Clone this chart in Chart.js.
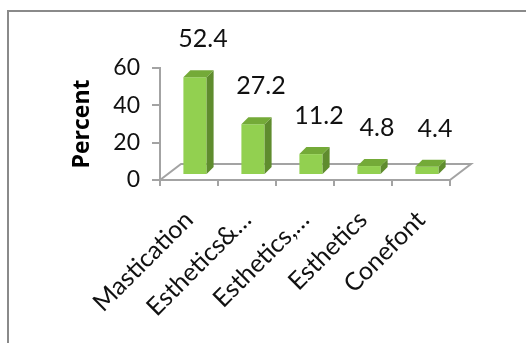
<!DOCTYPE html>
<html>
<head>
<meta charset="utf-8">
<title>Percent by reason</title>
<script src="https://cdn.jsdelivr.net/npm/chart.js@4/dist/chart.umd.min.js"></script>
<style>
  html, body { margin: 0; padding: 0; background: #fff; }
  canvas { display: block; }
</style>
</head>
<body>
<canvas id="chart" width="526" height="343"></canvas>
<script>
// Reasons and their share in percent
const categories = ['Mastication', 'Esthetics&\u2026', 'Esthetics,\u2026', 'Esthetics', 'Conefont'];
const percents = [52.4, 27.2, 11.2, 4.8, 4.4];
const yTickValues = [0, 20, 40, 60];

const FONT = 'Lato, "Open Sans", sans-serif';
const TITLE_FONT = '"Open Sans", Lato, sans-serif';
const AXIS_GREY = '#a3a3a3';

// Oblique projection used for the pseudo-3D look
const FLOOR_DEPTH = { dx: 21, dy: -16 };   // full depth of the floor
const BAR_SHIFT = { dx: 6, dy: -5 };       // bars sit a little behind the front edge
const BAR_DEPTH = { dx: 7, dy: -7 };       // thickness of each prism

const FACE_FRONT = '#92d050';
const FACE_SIDE = '#5f8c2e';
const FACE_TOP = '#74aa38';

const framePlugin = {
  id: 'frame',
  beforeDraw(chart) {
    const ctx = chart.ctx;
    ctx.save();
    ctx.fillStyle = '#fff';
    ctx.fillRect(0, 0, chart.width, chart.height);
    ctx.strokeStyle = '#8a8a8a';
    ctx.lineWidth = 2;
    ctx.strokeRect(8, 11, chart.width + 20, chart.height + 20);
    ctx.restore();
  }
};

const floorPlugin = {
  id: 'floor',
  beforeDatasetsDraw(chart) {
    const { ctx, chartArea: a } = chart;
    const { dx, dy } = FLOOR_DEPTH;
    ctx.save();
    ctx.strokeStyle = AXIS_GREY;
    ctx.lineWidth = 2;
    ctx.beginPath();
    ctx.moveTo(a.left, a.bottom);
    ctx.lineTo(a.left + dx, a.bottom + dy);
    ctx.lineTo(a.right + dx, a.bottom + dy);
    ctx.lineTo(a.right, a.bottom);
    ctx.stroke();
    ctx.restore();
  }
};

const prismPlugin = {
  id: 'prism',
  beforeDatasetsDraw(chart) {
    chart.ctx.save();
    chart.ctx.translate(BAR_SHIFT.dx, BAR_SHIFT.dy);
  },
  afterDatasetsDraw(chart) {
    const ctx = chart.ctx;
    const meta = chart.getDatasetMeta(0);
    const { dx, dy } = BAR_DEPTH;
    meta.data.forEach((bar) => {
      const { x, y, base, width } = bar.getProps(['x', 'y', 'base', 'width'], true);
      const l = x - width / 2, r = x + width / 2;
      // side face
      ctx.fillStyle = FACE_SIDE;
      ctx.beginPath();
      ctx.moveTo(r, y);
      ctx.lineTo(r + dx, y + dy);
      ctx.lineTo(r + dx, base + dy);
      ctx.lineTo(r, base);
      ctx.closePath();
      ctx.fill();
      // top face
      ctx.fillStyle = FACE_TOP;
      ctx.beginPath();
      ctx.moveTo(l, y);
      ctx.lineTo(l + dx, y + dy);
      ctx.lineTo(r + dx, y + dy);
      ctx.lineTo(r, y);
      ctx.closePath();
      ctx.fill();
    });
    ctx.restore();

    // value labels
    ctx.save();
    ctx.fillStyle = '#111';
    ctx.font = '25px ' + FONT;
    ctx.textAlign = 'center';
    ctx.textBaseline = 'middle';
    meta.data.forEach((bar, i) => {
      const { x, y } = bar.getProps(['x', 'y'], true);
      ctx.fillText(String(percents[i]), x + 14, y - 43);
    });
    ctx.restore();
  }
};

new Chart(document.getElementById('chart'), {
  type: 'bar',
  data: {
    labels: categories,
    datasets: [{
      data: percents,
      backgroundColor: FACE_FRONT,
      borderWidth: 0,
      categoryPercentage: 1,
      barPercentage: 0.4,
      clip: false
    }]
  },
  options: {
    responsive: false,
    devicePixelRatio: 1,
    animation: false,
    events: [],
    layout: { padding: { left: 0, top: 68, right: 76, bottom: 0 } },
    plugins: {
      legend: { display: false },
      tooltip: { enabled: false },
      title: { display: false }
    },
    scales: {
      x: {
        grid: {
          offset: true,
          drawOnChartArea: false,
          drawTicks: true,
          tickLength: 6,
          color: AXIS_GREY,
          lineWidth: 2
        },
        border: { display: true, color: AXIS_GREY, width: 2 },
        ticks: {
          minRotation: 45,
          maxRotation: 45,
          autoSkip: false,
          padding: 19,
          color: '#111',
          font: { family: FONT, size: 25 }
        },
        afterFit(scale) { scale.height = 163; }
      },
      y: {
        min: 0,
        max: 60,
        afterBuildTicks(scale) { scale.ticks = yTickValues.map(v => ({ value: v })); },
        grid: {
          drawOnChartArea: false,
          drawTicks: true,
          tickLength: 8,
          color: AXIS_GREY,
          lineWidth: 2
        },
        border: { display: true, color: AXIS_GREY, width: 2 },
        ticks: {
          padding: 12,
          color: '#111',
          font: { family: FONT, size: 23 }
        },
        title: {
          display: true,
          text: 'Percent',
          color: '#000',
          font: { family: TITLE_FONT, size: 23, weight: 'bold' },
          padding: { top: 69, bottom: 0 }
        },
        afterFit(scale) { scale.width = 160; }
      }
    }
  },
  plugins: [framePlugin, floorPlugin, prismPlugin]
});
</script>
</body>
</html>
